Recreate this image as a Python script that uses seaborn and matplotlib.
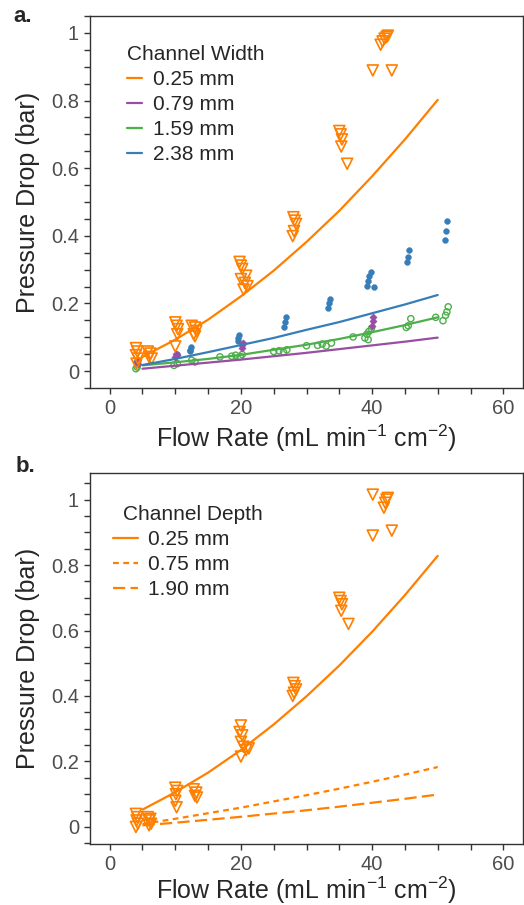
import numpy as np
import pandas as pd
import seaborn as sns
import matplotlib.pyplot as plt
from matplotlib.ticker import MultipleLocator, FuncFormatter

##------------------------ data ------------------------------------------------
widths = ["0.25 mm", "0.79 mm", "1.59 mm", "2.38 mm"]
depths = ["0.25 mm", "0.75 mm", "1.90 mm"]
colors = ["#ff7f00", "#984ea3", "#4daf4a", "#377eb8"]

# model curves
model_flow = [5, 10, 15, 20, 25, 30, 35, 40, 45, 50]
model_w025 = [0.042, 0.093, 0.152, 0.221, 0.297, 0.382, 0.474, 0.576, 0.685, 0.802]
model_w079 = [0.007, 0.016, 0.025, 0.034, 0.044, 0.054, 0.065, 0.076, 0.087, 0.099]
model_w159 = [0.017, 0.026, 0.036, 0.048, 0.063, 0.078, 0.095, 0.115, 0.136, 0.159]
model_w238 = [0.018, 0.036, 0.056, 0.077, 0.098, 0.122, 0.145, 0.171, 0.197, 0.225]
model_d025 = [0.053, 0.106, 0.166, 0.235, 0.313, 0.399, 0.493, 0.596, 0.708, 0.828]
model_d075 = [0.009, 0.025, 0.042, 0.059, 0.078, 0.097, 0.117, 0.138, 0.160, 0.183]
model_d190 = [0.005, 0.013, 0.022, 0.031, 0.041, 0.051, 0.062, 0.074, 0.086, 0.099]

# measurements, panel a
a025_x = [4.0, 4.2, 4.0, 4.3, 4.1, 5.8, 6.2, 6.0, 6.4, 10.0, 10.2, 10.4, 10.3, 10.0,
          12.5, 13.0, 13.2, 12.8, 13.0, 19.8, 20.0, 20.2, 20.0, 20.6, 21.0, 20.4, 20.8,
          28.0, 28.2, 28.4, 28.1, 27.9, 35.0, 35.2, 35.4, 35.3, 36.2,
          40.1, 43.0, 41.3, 41.6, 41.9, 42.2, 42.4]
a025_y = [0.068, 0.058, 0.047, 0.037, 0.022, 0.058, 0.052, 0.042, 0.037, 0.144, 0.134, 0.124, 0.109, 0.073,
          0.134, 0.129, 0.119, 0.109, 0.103, 0.323, 0.312, 0.302, 0.272, 0.261, 0.251, 0.241, 0.282,
          0.455, 0.445, 0.435, 0.414, 0.399, 0.710, 0.700, 0.685, 0.664, 0.613,
          0.889, 0.889, 0.965, 0.975, 0.983, 0.988, 0.992]
a079_x = [4.1, 4.3, 10.0, 10.2, 10.1, 20.1, 20.2, 20.3, 40.0, 40.2, 40.1]
a079_y = [0.027, 0.022, 0.042, 0.047, 0.052, 0.068, 0.076, 0.083, 0.134, 0.149, 0.160]
a159_x = [4.0, 4.2, 9.8, 10.3, 12.5, 13.0, 16.8, 18.6, 19.2, 19.9, 20.2, 25.0, 25.8, 26.5, 27.0,
          30.0, 31.7, 32.4, 33.0, 33.8, 37.1, 38.9, 39.2, 39.5, 39.9, 39.4,
          45.2, 45.5, 45.9, 49.7, 50.8, 51.2, 51.4, 51.6]
a159_y = [0.007, 0.012, 0.017, 0.022, 0.032, 0.027, 0.042, 0.044, 0.047, 0.043, 0.049, 0.058, 0.060, 0.056, 0.063,
          0.075, 0.076, 0.080, 0.074, 0.083, 0.101, 0.098, 0.109, 0.117, 0.126, 0.093,
          0.129, 0.134, 0.155, 0.159, 0.149, 0.165, 0.175, 0.190]
a238_x = [4.0, 4.3, 10.2, 12.2, 12.3, 12.4, 19.5, 19.6, 19.7, 26.5, 26.7, 26.8, 33.3, 33.5, 33.6,
          39.2, 39.4, 39.6, 39.8, 40.3, 45.3, 45.5, 45.6, 51.1, 51.3, 51.4]
a238_y = [0.027, 0.032, 0.052, 0.058, 0.063, 0.070, 0.088, 0.098, 0.106, 0.129, 0.144, 0.159, 0.188, 0.200, 0.214,
          0.251, 0.267, 0.282, 0.292, 0.249, 0.323, 0.338, 0.357, 0.389, 0.414, 0.445]

# measurements, panel b
b_x = [4.0, 4.2, 4.1, 4.3, 4.0, 5.8, 6.2, 6.0, 6.3, 6.0, 10.0, 10.3, 10.1, 10.0, 10.2,
       12.8, 13.2, 13.0, 13.3, 20.0, 19.8, 20.2, 20.0, 20.4, 20.8, 21.2, 20.0,
       28.0, 28.2, 28.4, 28.1, 27.9, 35.0, 35.2, 35.4, 35.3, 36.4,
       40.1, 40.1, 43.0, 41.8, 42.0, 42.2, 42.4]
b_y = [0.04, 0.03, 0.02, 0.01, 0.0, 0.03, 0.025, 0.02, 0.01, 0.005, 0.12, 0.11, 0.10, 0.08, 0.06,
       0.115, 0.105, 0.095, 0.09, 0.31, 0.29, 0.28, 0.26, 0.245, 0.235, 0.24, 0.215,
       0.44, 0.43, 0.42, 0.41, 0.40, 0.70, 0.69, 0.68, 0.66, 0.62,
       1.015, 0.89, 0.905, 0.975, 0.99, 1.0, 1.005]

##------------------------ tables ----------------------------------------------
lines_a = pd.DataFrame({"flow": model_flow * 4,
                        "dp": model_w025 + model_w079 + model_w159 + model_w238,
                        "width": np.repeat(widths, len(model_flow))})
lines_b = pd.DataFrame({"flow": model_flow * 3,
                        "dp": model_d025 + model_d075 + model_d190,
                        "depth": np.repeat(depths, len(model_flow))})

##------------------------ style -----------------------------------------------
sns.set_theme(style="ticks")
plt.rcParams["font.family"] = ["Liberation Sans", "DejaVu Sans"]
plt.rcParams["mathtext.fontset"] = "custom"
plt.rcParams["mathtext.rm"] = "Liberation Sans"
plt.rcParams["mathtext.it"] = "Liberation Sans:italic"
plt.rcParams["axes.edgecolor"] = "#333333"
plt.rcParams["axes.linewidth"] = 1.0

fig = plt.figure(figsize=(5.24, 9.05), dpi=100)
ax1 = fig.add_axes([90 / 524, 1 - 388 / 905, 433 / 524, 372 / 905])
ax2 = fig.add_axes([90 / 524, 1 - 844 / 905, 433 / 524, 371 / 905])

##------------------------ panel a ---------------------------------------------
sns.lineplot(data=lines_a, x="flow", y="dp", hue="width", hue_order=widths,
             palette=colors, linewidth=1.6, ax=ax1)
sns.scatterplot(x=a159_x, y=a159_y, marker="o", s=20, facecolor="none",
                edgecolor=colors[2], linewidth=1.0, ax=ax1, legend=False)
sns.scatterplot(x=a238_x, y=a238_y, marker="o", s=18, color=colors[3],
                edgecolor=colors[3], linewidth=0.3, ax=ax1, legend=False)
sns.scatterplot(x=a079_x, y=a079_y, marker="D", s=14, color=colors[1],
                edgecolor=colors[1], linewidth=0.3, ax=ax1, legend=False)
sns.scatterplot(x=a025_x, y=a025_y, marker="v", s=62, facecolor="none",
                edgecolor=colors[0], linewidth=1.2, ax=ax1, legend=False)

h, l = ax1.get_legend_handles_labels()
ax1.legend(h, l, title="Channel Width", loc="upper left",
           bbox_to_anchor=(127 / 524, 1 - 45 / 905), bbox_transform=fig.transFigure,
           frameon=False, fontsize=15, title_fontsize=15, handlelength=0.7,
           handletextpad=0.55, labelspacing=0.29, borderpad=0, borderaxespad=0,
           alignment="left")

##------------------------ panel b ---------------------------------------------
sns.lineplot(data=lines_b, x="flow", y="dp", style="depth", style_order=depths,
             dashes={"0.25 mm": "", "0.75 mm": (2.6, 2.0), "1.90 mm": (5.5, 2.4)},
             color=colors[0], linewidth=1.6, ax=ax2)
sns.scatterplot(x=b_x, y=b_y, marker="v", s=62, facecolor="none",
                edgecolor=colors[0], linewidth=1.2, ax=ax2, legend=False)

h, l = ax2.get_legend_handles_labels()
for hd in h:
    hd.set_color(colors[0])
    hd.set_linewidth(1.6)
leg = ax2.legend(h, l, title="Channel Depth", loc="upper left",
                 bbox_to_anchor=(113 / 524, 1 - 505 / 905), bbox_transform=fig.transFigure,
                 frameon=False, fontsize=15, title_fontsize=15, handlelength=1.2,
                 handletextpad=0.5, labelspacing=0.29, borderpad=0, borderaxespad=0,
                 alignment="left")
leg.get_title().set_x(10)

##------------------------ axes ------------------------------------------------
for ax, ylim, lp in [(ax1, (-0.05, 1.05), 3), (ax2, (-0.052, 1.081), 0)]:
    ax.set_xlim(-3, 63)
    ax.set_ylim(*ylim)
    ax.xaxis.set_major_locator(MultipleLocator(20))
    ax.xaxis.set_minor_locator(MultipleLocator(5))
    ax.yaxis.set_major_locator(MultipleLocator(0.2))
    ax.yaxis.set_minor_locator(MultipleLocator(0.05))
    ax.yaxis.set_major_formatter(FuncFormatter(lambda v, p: "%g" % round(v, 2)))
    ax.tick_params(which="both", length=4, width=1.0, color="#333333",
                   labelsize=14.5, labelcolor="#4d4d4d", pad=4)
    ax.set_xlabel(r"Flow Rate (mL min$^{-1}$ cm$^{-2}$)", fontsize=18, labelpad=lp)
    ax.set_ylabel("Pressure Drop (bar)", fontsize=18, labelpad=8)
    for s in ax.spines.values():
        s.set_visible(True)

fig.text(13 / 524, 1 - 17 / 905, "a.", fontsize=16, fontweight="bold", va="center")
fig.text(16 / 524, 1 - 466 / 905, "b.", fontsize=16, fontweight="bold", va="center")

fig.savefig("out.png", dpi=100)
